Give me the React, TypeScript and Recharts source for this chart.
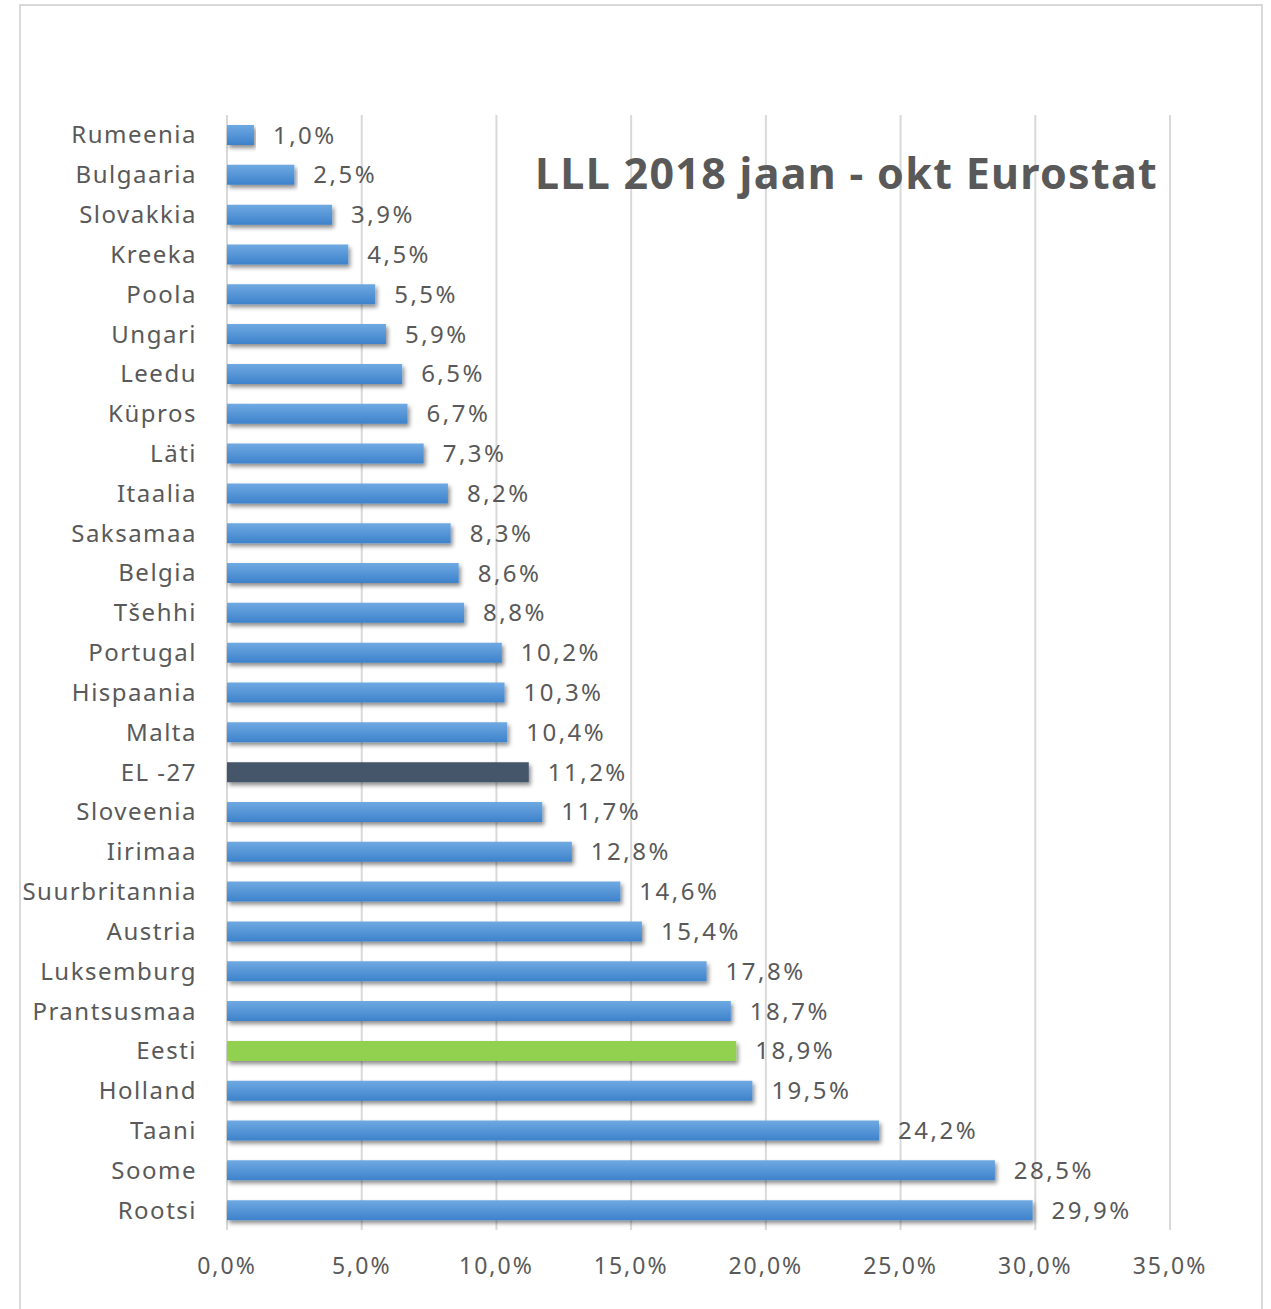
import { BarChart, Bar, XAxis, YAxis, CartesianGrid, Cell, LabelList } from 'recharts';

const riigid = [
  'Rumeenia', 'Bulgaaria', 'Slovakkia', 'Kreeka', 'Poola', 'Ungari', 'Leedu', 'Küpros', 'Läti',
  'Itaalia', 'Saksamaa', 'Belgia', 'Tšehhi', 'Portugal', 'Hispaania', 'Malta', 'EL -27',
  'Sloveenia', 'Iirimaa', 'Suurbritannia', 'Austria', 'Luksemburg', 'Prantsusmaa', 'Eesti',
  'Holland', 'Taani', 'Soome', 'Rootsi',
];
const osalus = [
  1.0, 2.5, 3.9, 4.5, 5.5, 5.9, 6.5, 6.7, 7.3,
  8.2, 8.3, 8.6, 8.8, 10.2, 10.3, 10.4, 11.2,
  11.7, 12.8, 14.6, 15.4, 17.8, 18.7, 18.9,
  19.5, 24.2, 28.5, 29.9,
];
const xTicks = [0, 5, 10, 15, 20, 25, 30, 35];
const pealkiri = 'LLL 2018 jaan - okt Eurostat';

const chartData = riigid.map((riik, i) => ({ riik, vaartus: osalus[i] }));

// protsent eesti moodi: koma, üks komakoht
const fmt = (v: number) => v.toFixed(1).replace('.', ',') + '%';

const barFill = (riik: string) => {
  if (riik === 'EL -27') return '#44546a';
  if (riik === 'Eesti') return '#92d050';
  return 'url(#sinine)';
};

const font = '"Noto Sans", sans-serif';

const App = () => {
  return (
    <div style={{ position: 'absolute', left: 0, top: 0, width: 1271, height: 1309, background: '#fff' }}>
      <div style={{ position: 'absolute', left: 19, top: 4, width: 1244, height: 1310, border: '2px solid #d9d9d9', boxSizing: 'border-box' }} />
      <BarChart
        width={1271}
        height={1309}
        data={chartData}
        layout="vertical"
        margin={{ top: 115, right: 101, bottom: 0, left: 0 }}
        barSize={20}
        style={{ position: 'absolute', left: 0, top: 0 }}
      >
        <defs>
          <linearGradient id="sinine" x1="0" y1="0" x2="0" y2="1">
            <stop offset="0%" stopColor="#6fa9e2" />
            <stop offset="100%" stopColor="#3d82cb" />
          </linearGradient>
          <filter id="vari" x="-5%" y="-50%" width="110%" height="220%">
            <feDropShadow dx="2" dy="3" stdDeviation="2" floodColor="#000" floodOpacity="0.45" />
          </filter>
        </defs>
        <CartesianGrid horizontal={false} stroke="#d9d9d9" strokeWidth={2} />
        <XAxis
          type="number"
          domain={[0, 35]}
          ticks={xTicks}
          tickFormatter={fmt}
          axisLine={false}
          tickLine={false}
          tickSize={0}
          tickMargin={28}
          height={79}
          interval={0}
          tick={{ fill: '#595959', fontSize: 23, fontFamily: font, letterSpacing: 2 }}
        />
        <YAxis
          type="category"
          dataKey="riik"
          width={227}
          axisLine={false}
          tickLine={false}
          tickSize={0}
          tickMargin={30}
          interval={0}
          tick={{ fill: '#595959', fontSize: 24, fontFamily: font, letterSpacing: 1.5 }}
        />
        <Bar dataKey="vaartus" isAnimationActive={false} filter="url(#vari)">
          {chartData.map((d) => (
            <Cell key={d.riik} fill={barFill(d.riik)} />
          ))}
          <LabelList
            dataKey="vaartus"
            position="right"
            offset={19}
            formatter={(v: any) => fmt(Number(v))}
            style={{ fill: '#595959', fontSize: 24, fontFamily: font, letterSpacing: 2.5 }}
          />
        </Bar>
      </BarChart>
      <div
        style={{
          position: 'absolute',
          left: 535,
          top: 147,
          fontFamily: font,
          fontWeight: 700,
          fontSize: 43,
          letterSpacing: 1.3,
          color: '#595959',
          whiteSpace: 'nowrap',
          lineHeight: 1.2,
        }}
      >
        {pealkiri}
      </div>
    </div>
  );
};

export default App;
